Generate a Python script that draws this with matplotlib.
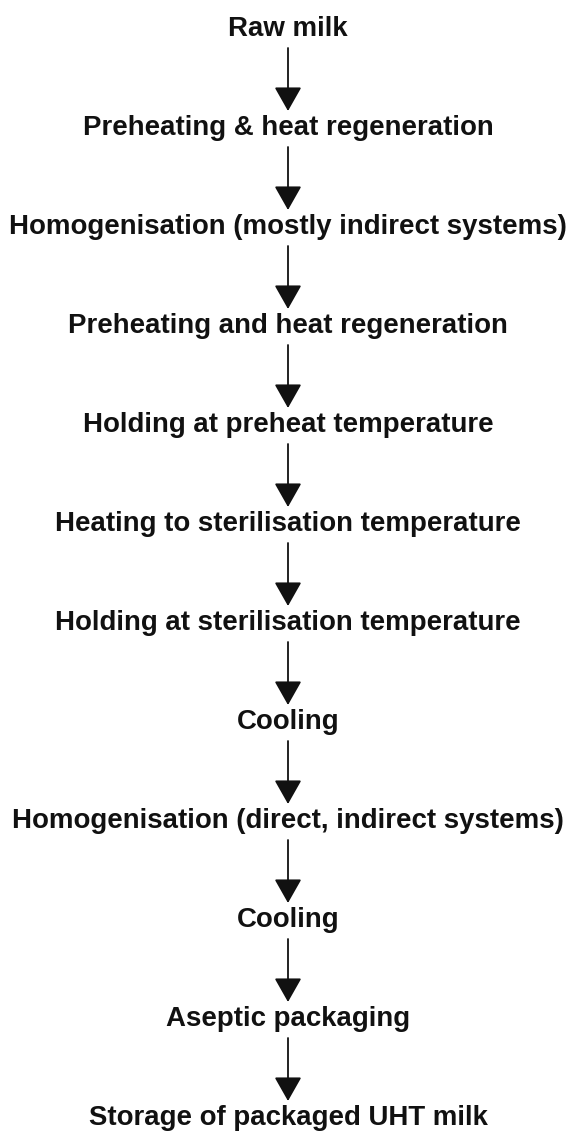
import matplotlib
matplotlib.use("Agg")
from matplotlib import pyplot as plt

# Process steps, top to bottom
steps = [
    "Raw milk",
    "Preheating & heat regeneration",
    "Homogenisation (mostly indirect systems)",
    "Preheating and heat regeneration",
    "Holding at preheat temperature",
    "Heating to sterilisation temperature",
    "Holding at sterilisation temperature",
    "Cooling",
    "Homogenisation (direct, indirect systems)",
    "Cooling",
    "Aseptic packaging",
    "Storage of packaged UHT milk",
]

W, H = 574, 1133
fig = plt.figure(figsize=(W / 100, H / 100), dpi=100)
ax = fig.add_axes([0, 0, 1, 1])
ax.set_xlim(0, W)
ax.set_ylim(H, 0)
ax.axis("off")

x_mid = 288
top = 29
gap = 99

font = dict(family=["Liberation Sans", "DejaVu Sans"], fontweight="bold",
            fontsize=19.9, ha="center", va="center", color="#111111")

for i, label in enumerate(steps):
    y = top + i * gap
    ax.text(x_mid, y, label, **font)
    if i < len(steps) - 1:
        ax.annotate("", xy=(x_mid, y + gap - 17), xytext=(x_mid, y + 19),
                    arrowprops=dict(arrowstyle="-|>,head_length=1.5,head_width=0.85",
                                    color="#111111", lw=1.3, shrinkA=0, shrinkB=0))

fig.savefig("out.png", dpi=100)
